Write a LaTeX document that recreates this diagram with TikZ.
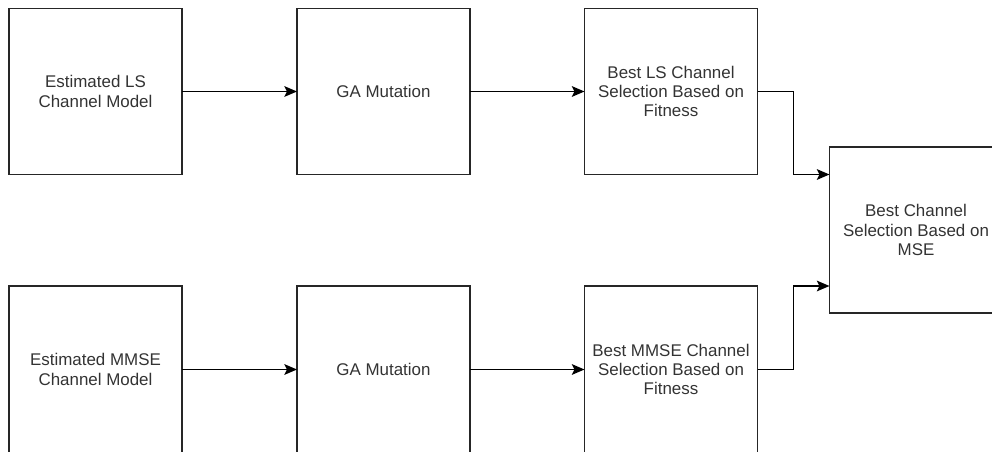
\documentclass[tikz,border=0pt]{standalone}
\usepackage{fontspec}
\setmainfont{Liberation Sans}
\usetikzlibrary{arrows.meta}
\begin{document}
\begin{tikzpicture}[x=0.75pt,y=-0.75pt,
  blk/.style={draw=black!85, line width=1.1pt, minimum width=173*0.75pt, minimum height=166*0.75pt,
    inner sep=0pt, outer sep=0pt, align=center, font=\fontsize{12.7pt}{14.5pt}\selectfont, text=black!80},
  conn/.style={draw=black, line width=1.1pt, -{Stealth[length=9.5pt,width=8pt,inset=2pt]}}]
\clip (0,0) rectangle (992,452);
\node[blk] (b1) at (95.5,91.5) {Estimated LS\\Channel Model};
\node[blk] (b2) at (383.5,91.5) {GA Mutation};
\node[blk] (b3) at (671,91.5) {Best LS Channel\\Selection Based on\\Fitness};
\node[blk] (b4) at (916,230) {Best Channel\\Selection Based on\\MSE};
\node[blk, minimum height=167*0.75pt] (b5) at (95.5,369.5) {Estimated MMSE\\Channel Model};
\node[blk, minimum height=167*0.75pt] (b6) at (383.5,369.5) {GA Mutation};
\node[blk, minimum height=167*0.75pt] (b7) at (671,369.5) {Best MMSE Channel\\Selection Based on\\Fitness};
\draw[conn] (b1) -- (b2);
\draw[conn] (b2) -- (b3);
\draw[conn] (b5) -- (b6);
\draw[conn] (b6) -- (b7);
\draw[conn] (b3.east) -- ++(36,0) |- (b4.west |- b3.south);
\draw[conn] (b7.east) -- ++(36,0) |- (b4.west |- b7.north);
\end{tikzpicture}
\end{document}
